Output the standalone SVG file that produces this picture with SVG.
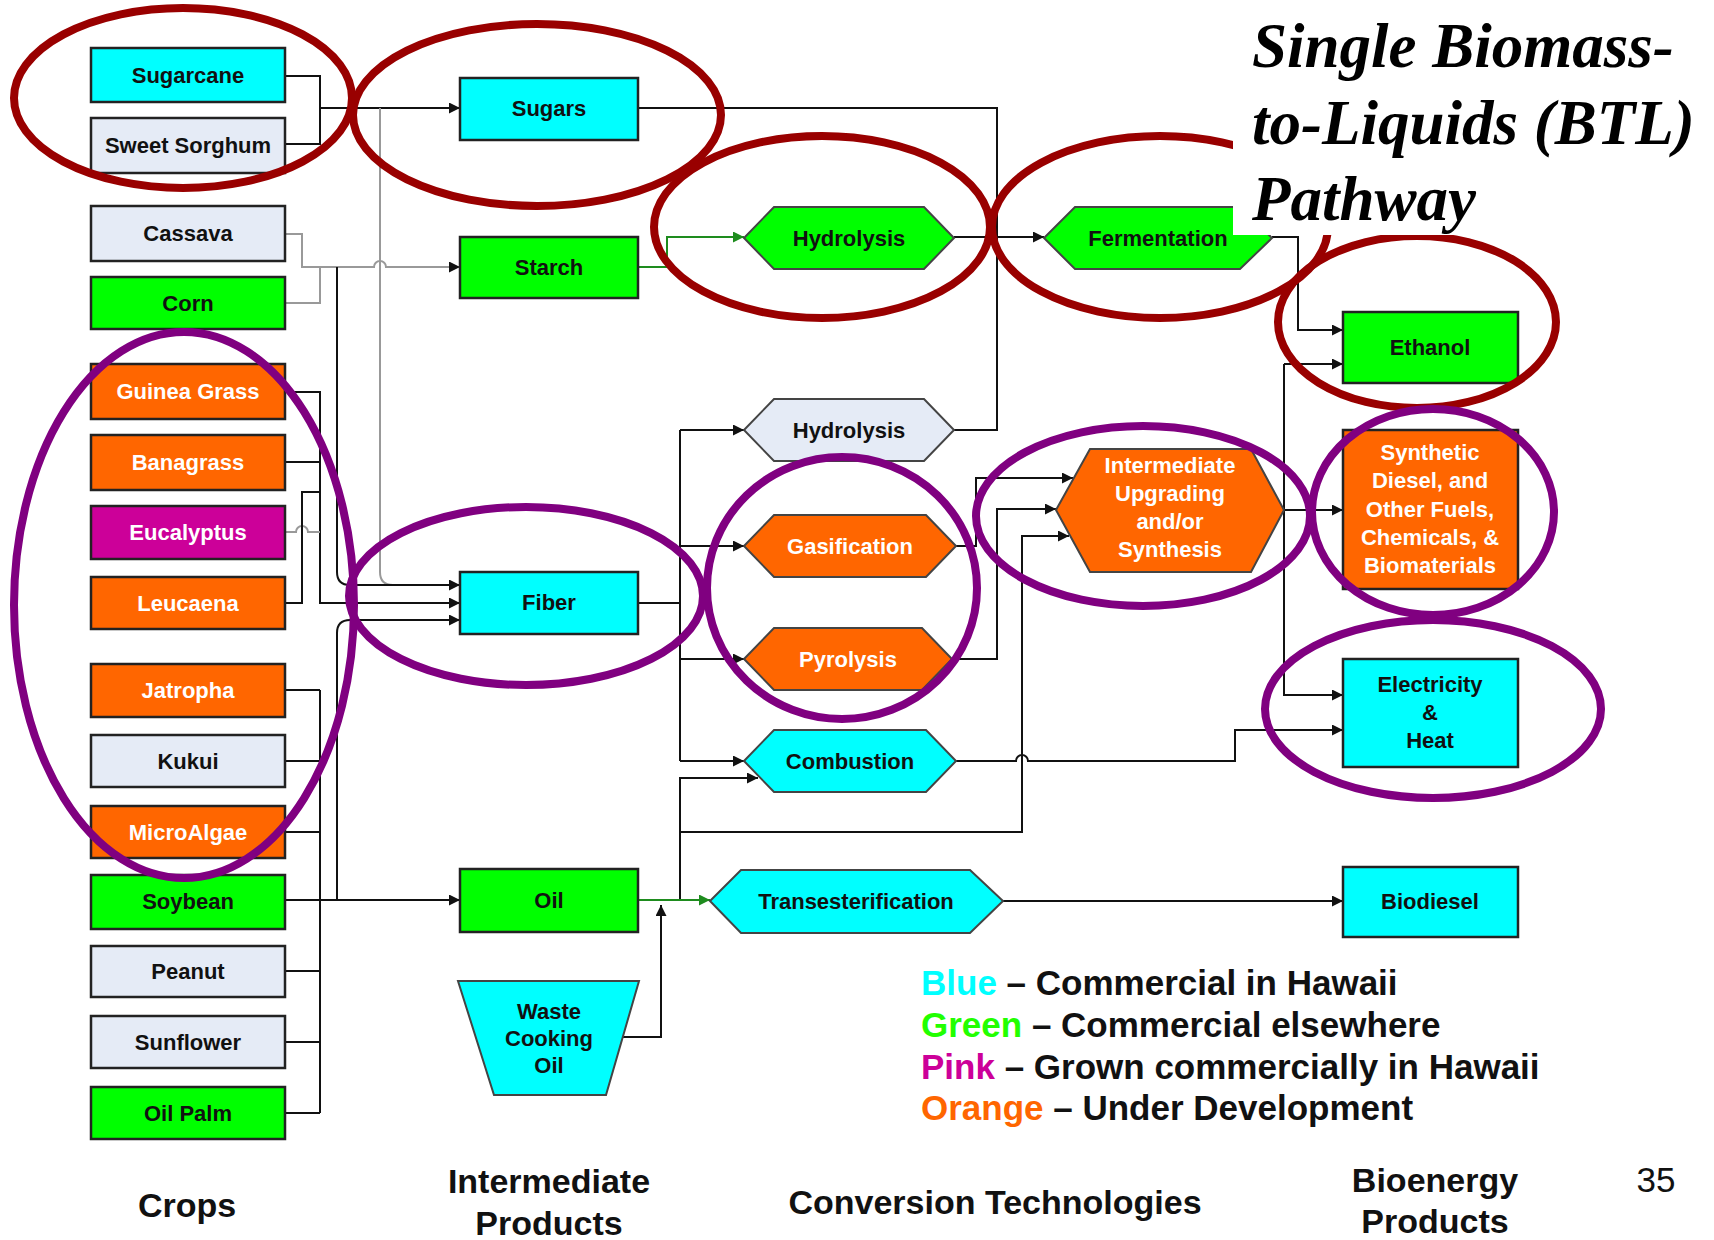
<svg xmlns="http://www.w3.org/2000/svg" width="1714" height="1240" viewBox="0 0 1714 1240">
<style>
.bx{stroke:#222;stroke-width:2.5}
.hx{stroke:#444;stroke-width:2}
.cy{fill:#00FFFF}.gr{fill:#00FF00}.lg{fill:#E5EBF6}.or{fill:#FF6600}.pk{fill:#CC0099}
.t{font-family:"Liberation Sans",Arial,sans-serif;font-weight:bold;font-size:22px;text-anchor:middle;fill:#111}
.w{fill:#fff}
.lab{font-family:"Liberation Sans",Arial,sans-serif;font-weight:bold;font-size:34px;text-anchor:middle;fill:#111}
.leg{font-family:"Liberation Sans",Arial,sans-serif;font-weight:bold;font-size:35px;fill:#111}
.c{fill:none;stroke:#111;stroke-width:2}
.cg{fill:none;stroke:#999;stroke-width:2}
.cgr{fill:none;stroke:#1E8C1E;stroke-width:2}
.er{fill:none;stroke:#990000;stroke-width:8}
.ep{fill:none;stroke:#800080;stroke-width:8}
</style>
<defs>
<marker id="ab" viewBox="0 0 10 10" refX="10" refY="5" markerWidth="12" markerHeight="11" markerUnits="userSpaceOnUse" orient="auto"><path d="M0,0 L10,5 L0,10 z" fill="#111"/></marker>
<marker id="ag" viewBox="0 0 10 10" refX="10" refY="5" markerWidth="12" markerHeight="11" markerUnits="userSpaceOnUse" orient="auto"><path d="M0,0 L10,5 L0,10 z" fill="#1E8C1E"/></marker>
</defs>
<rect width="1714" height="1240" fill="#fff"/>

<g id="connectors">
<path class="c" d="M286,76 H320 V144 H286"/>
<path class="c" d="M320,108 H460" marker-end="url(#ab)"/>
<path class="cg" d="M380,108 V572 Q380,585 393,585 H460"/>
<path class="cg" d="M286,234 H302 V267 H374 a6,6 0 0 1 12,0 H460" marker-end="url(#ab)"/>
<path class="cg" d="M286,303 H320 V267"/>
<path class="c" d="M337,267 V572 Q337,585 350,585 H460" marker-end="url(#ab)"/>
<path class="cgr" d="M638,267 H667 V237 H744" marker-end="url(#ag)"/>
<path class="c" d="M638,108 H997 V430 H954"/>
<path class="c" d="M954,237 H1044" marker-end="url(#ab)"/>
<path class="c" d="M1272,237 H1298 V330 H1343" marker-end="url(#ab)"/>
<path class="c" d="M286,392 H320 V603 H460" marker-end="url(#ab)"/>
<path class="c" d="M286,462 H320"/>
<path class="cg" d="M286,532 H296 a6,6 0 0 1 12,0 H320"/>
<path class="c" d="M286,603 H302 V492 H320"/>
<path class="c" d="M286,690 H320 M286,761 H320 M286,832 H320 M286,971 H320 M286,1042 H320 M286,1113 H320 M320,690 V1113"/>
<path class="c" d="M286,900 H460" marker-end="url(#ab)"/>
<path class="c" d="M337,900 V633 Q337,620 350,620 H460" marker-end="url(#ab)"/>
<path class="c" d="M638,603 H680 M680,430 V761"/>
<path class="c" d="M680,430 H744" marker-end="url(#ab)"/>
<path class="c" d="M680,546 H744" marker-end="url(#ab)"/>
<path class="c" d="M680,659 H744" marker-end="url(#ab)"/>
<path class="c" d="M680,761 H744" marker-end="url(#ab)"/>
<path class="c" d="M956,546 H976 V478 H1073" marker-end="url(#ab)"/>
<path class="c" d="M952,659 H997 V509 H1056" marker-end="url(#ab)"/>
<path class="c" d="M680,900 V778 H758" marker-end="url(#ab)"/>
<path class="c" d="M680,832 H1022 V536 H1069" marker-end="url(#ab)"/>
<path class="c" d="M956,761 H1016 a6,6 0 0 1 12,0 H1235 V730 H1343" marker-end="url(#ab)"/>
<path class="c" d="M1284,510 H1343" marker-end="url(#ab)"/>
<path class="c" d="M1284,364 H1343" marker-end="url(#ab)"/>
<path class="c" d="M1284,364 V695 H1343" marker-end="url(#ab)"/>
<path class="cgr" d="M638,900 H710" marker-end="url(#ag)"/>
<path class="c" d="M622,1037 H661 V905" marker-end="url(#ab)"/>
<path class="c" d="M1003,901 H1343" marker-end="url(#ab)"/>
</g>

<g id="n-sugarcane"><rect class="bx cy" x="91" y="48" width="194" height="54"/><text class="t" x="188" y="83">Sugarcane</text></g>
<g id="n-sweetsorghum"><rect class="bx lg" x="91" y="118" width="194" height="55"/><text class="t" x="188" y="153">Sweet Sorghum</text></g>
<g id="n-cassava"><rect class="bx lg" x="91" y="206" width="194" height="55"/><text class="t" x="188" y="241">Cassava</text></g>
<g id="n-corn"><rect class="bx gr" x="91" y="277" width="194" height="52"/><text class="t" x="188" y="311">Corn</text></g>
<g id="n-guinea"><rect class="bx or" x="91" y="364" width="194" height="55"/><text class="t w" x="188" y="399">Guinea Grass</text></g>
<g id="n-banagrass"><rect class="bx or" x="91" y="435" width="194" height="55"/><text class="t w" x="188" y="470">Banagrass</text></g>
<g id="n-eucalyptus"><rect class="bx pk" x="91" y="506" width="194" height="53"/><text class="t w" x="188" y="540">Eucalyptus</text></g>
<g id="n-leucaena"><rect class="bx or" x="91" y="577" width="194" height="52"/><text class="t w" x="188" y="611">Leucaena</text></g>
<g id="n-jatropha"><rect class="bx or" x="91" y="664" width="194" height="53"/><text class="t w" x="188" y="698">Jatropha</text></g>
<g id="n-kukui"><rect class="bx lg" x="91" y="735" width="194" height="52"/><text class="t" x="188" y="769">Kukui</text></g>
<g id="n-microalgae"><rect class="bx or" x="91" y="806" width="194" height="52"/><text class="t w" x="188" y="840">MicroAlgae</text></g>
<g id="n-soybean"><rect class="bx gr" x="91" y="875" width="194" height="54"/><text class="t" x="188" y="909">Soybean</text></g>
<g id="n-peanut"><rect class="bx lg" x="91" y="946" width="194" height="51"/><text class="t" x="188" y="979">Peanut</text></g>
<g id="n-sunflower"><rect class="bx lg" x="91" y="1016" width="194" height="52"/><text class="t" x="188" y="1050">Sunflower</text></g>
<g id="n-oilpalm"><rect class="bx gr" x="91" y="1087" width="194" height="52"/><text class="t" x="188" y="1121">Oil Palm</text></g>

<g id="n-sugars"><rect class="bx cy" x="460" y="78" width="178" height="62"/><text class="t" x="549" y="116">Sugars</text></g>
<g id="n-starch"><rect class="bx gr" x="460" y="237" width="178" height="61"/><text class="t" x="549" y="275">Starch</text></g>
<g id="n-fiber"><rect class="bx cy" x="460" y="572" width="178" height="62"/><text class="t" x="549" y="610">Fiber</text></g>
<g id="n-oil"><rect class="bx gr" x="460" y="869" width="178" height="63"/><text class="t" x="549" y="908">Oil</text></g>
<g id="n-waste"><polygon class="hx cy" points="458,981 639,981 606,1095 494,1095"/><text class="t" x="549" y="1019">Waste</text><text class="t" x="549" y="1046">Cooking</text><text class="t" x="549" y="1073">Oil</text></g>

<g id="n-hydrolysis1"><polygon class="hx gr" points="744,238 774,207 924,207 954,238 924,269 774,269"/><text class="t" x="849" y="246">Hydrolysis</text></g>
<g id="n-fermentation"><polygon class="hx gr" points="1044,238 1075,207 1240,207 1272,238 1240,269 1075,269"/><text class="t" x="1158" y="246">Fermentation</text></g>
<g id="n-hydrolysis2"><polygon class="hx lg" points="744,430 774,399 924,399 954,430 924,461 774,461"/><text class="t" x="849" y="438">Hydrolysis</text></g>
<g id="n-gasification"><polygon class="hx or" points="744,546 774,515 926,515 956,546 926,577 774,577"/><text class="t w" x="850" y="554">Gasification</text></g>
<g id="n-pyrolysis"><polygon class="hx or" points="744,659 774,628 922,628 952,659 922,690 774,690"/><text class="t w" x="848" y="667">Pyrolysis</text></g>
<g id="n-combustion"><polygon class="hx cy" points="744,761 774,730 926,730 956,761 926,792 774,792"/><text class="t" x="850" y="769">Combustion</text></g>
<g id="n-intermediate"><polygon class="hx or" points="1056,510 1090,449 1251,449 1284,510 1251,572 1090,572"/><text class="t w" x="1170" y="473">Intermediate</text><text class="t w" x="1170" y="501">Upgrading</text><text class="t w" x="1170" y="529">and/or</text><text class="t w" x="1170" y="557">Synthesis</text></g>
<g id="n-transesterification"><polygon class="hx cy" points="710,901 741,870 970,870 1003,901 970,933 741,933"/><text class="t" x="856" y="909">Transesterification</text></g>

<g id="n-ethanol"><rect class="bx gr" x="1343" y="312" width="175" height="71"/><text class="t" x="1430" y="355">Ethanol</text></g>
<g id="n-synthetic"><rect class="bx or" x="1343" y="430" width="175" height="159"/><text class="t w" x="1430" y="460">Synthetic</text><text class="t w" x="1430" y="488">Diesel, and</text><text class="t w" x="1430" y="517">Other Fuels,</text><text class="t w" x="1430" y="545">Chemicals, &amp;</text><text class="t w" x="1430" y="573">Biomaterials</text></g>
<g id="n-electricity"><rect class="bx cy" x="1343" y="659" width="175" height="108"/><text class="t" x="1430" y="692">Electricity</text><text class="t" x="1430" y="720">&amp;</text><text class="t" x="1430" y="748">Heat</text></g>
<g id="n-biodiesel"><rect class="bx cy" x="1343" y="867" width="175" height="70"/><text class="t" x="1430" y="909">Biodiesel</text></g>

<g id="highlights">
<ellipse class="er" cx="183" cy="98" rx="169" ry="90"/>
<ellipse class="er" cx="537" cy="115" rx="184" ry="91"/>
<ellipse class="er" cx="822" cy="227" rx="168" ry="91"/>
<ellipse class="er" cx="1160" cy="227" rx="168" ry="91"/>
<ellipse class="er" cx="1417" cy="322" rx="139" ry="86"/>
<ellipse class="ep" cx="184" cy="605" rx="170" ry="273"/>
<ellipse class="ep" cx="526" cy="596" rx="177" ry="89"/>
<ellipse class="ep" cx="842" cy="588" rx="135" ry="131"/>
<ellipse class="ep" cx="1143" cy="516" rx="167" ry="90"/>
<ellipse class="ep" cx="1433" cy="512" rx="121" ry="103"/>
<ellipse class="ep" cx="1433" cy="709" rx="168" ry="89"/>
</g>

<g id="title">
<rect x="1233" y="0" width="481" height="235" fill="#fff"/>
<text font-family="'Liberation Serif','Times New Roman',serif" font-weight="bold" font-style="italic" font-size="63" fill="#000"><tspan x="1252" y="67">Single Biomass-</tspan><tspan x="1252" y="144">to-Liquids (BTL)</tspan><tspan x="1252" y="220">Pathway</tspan></text>
</g>

<g id="legend">
<text class="leg" x="921" y="995"><tspan fill="#00FFFF">Blue</tspan> – Commercial in Hawaii</text>
<text class="leg" x="921" y="1037"><tspan fill="#22FF00">Green</tspan> – Commercial elsewhere</text>
<text class="leg" x="921" y="1079"><tspan fill="#CC0099">Pink</tspan> – Grown commercially in Hawaii</text>
<text class="leg" x="921" y="1120"><tspan fill="#FF6600">Orange</tspan> – Under Development</text>
</g>

<g id="labels">
<text class="lab" x="187" y="1217">Crops</text>
<text class="lab" x="549" y="1193">Intermediate</text>
<text class="lab" x="549" y="1235">Products</text>
<text class="lab" x="995" y="1214">Conversion Technologies</text>
<text class="lab" x="1435" y="1192">Bioenergy</text>
<text class="lab" x="1435" y="1233">Products</text>
<text x="1656" y="1192" font-family="'Liberation Sans',Arial,sans-serif" font-size="35" text-anchor="middle" fill="#111">35</text>
</g>
</svg>
